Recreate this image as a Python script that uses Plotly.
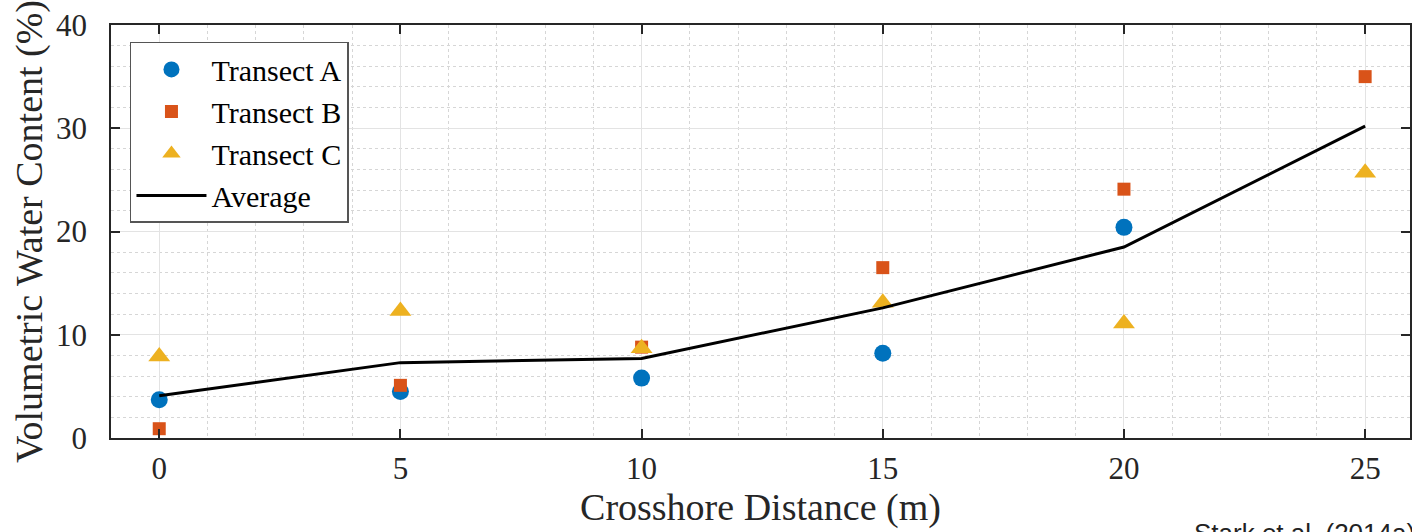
import plotly.graph_objects as go

x_vals = [0, 5, 10, 15, 20, 25]
transect_a_x = [0, 5, 10, 15, 20]
transect_a = [3.7, 4.5, 5.8, 8.2, 20.4]
transect_b = [0.9, 5.1, 8.8, 16.5, 24.1, 35.0]
transect_c = [7.9, 12.3, 8.7, 13.1, 11.1, 25.7]
average = [4.1, 7.3, 7.7, 12.6, 18.5, 30.2]

x_ticks = [0, 5, 10, 15, 20, 25]
y_ticks = [0, 10, 20, 30, 40]

SERIF = "Liberation Serif, Times New Roman, serif"
AX = "#262626"

fig = go.Figure()
fig.add_trace(go.Scatter(x=transect_a_x, y=transect_a, mode="markers", name="Transect A",
                         marker=dict(symbol="circle", size=17, color="#0072BD")))
fig.add_trace(go.Scatter(x=x_vals, y=transect_b, mode="markers", name="Transect B",
                         marker=dict(symbol="square", size=13, color="#D95319")))
fig.add_trace(go.Scatter(x=x_vals, y=transect_c, mode="markers", name="Transect C",
                         marker=dict(symbol="triangle-up", size=19, color="#EDB120")))
fig.add_trace(go.Scatter(x=x_vals, y=average, mode="lines", name="Average",
                         line=dict(color="black", width=3)))

fig.update_layout(
    width=1412, height=532,
    margin=dict(l=111, r=0, t=25, b=94),
    paper_bgcolor="white", plot_bgcolor="white",
    font=dict(family=SERIF, color=AX),
    showlegend=True,
    legend=dict(x=0.0146, y=0.959, xanchor="left", yanchor="top",
                bgcolor="white", bordercolor="#555555", borderwidth=1.5,
                font=dict(family=SERIF, size=30, color="black"),
                tracegroupgap=0, itemwidth=70),
    annotations=[dict(text="Stark et al. (2014a)", xref="paper", yref="paper",
                      x=(1194 - 111) / 1301, y=-0.19, xanchor="left", yanchor="top",
                      showarrow=False, font=dict(family="Liberation Sans, Arial", size=26, color="#222222"))],
)

fig.update_xaxes(
    range=[-1, 25.93], tickvals=x_ticks, ticks="inside", ticklen=9, tickcolor=AX, tickwidth=1.5,
    showline=True, linecolor=AX, linewidth=1.5, mirror="ticks",
    showgrid=True, gridcolor="#e3e3e3", gridwidth=1,
    minor=dict(dtick=1, showgrid=True, gridcolor="#d6d6d6", griddash="dot", gridwidth=1),
    tickfont=dict(family=SERIF, size=31, color=AX), ticklabelstandoff=2,
    title=dict(text="Crosshore Distance (m)", font=dict(family=SERIF, size=38, color=AX), standoff=0),
    zeroline=False, fixedrange=True,
)
fig.update_yaxes(
    range=[0, 40], tickvals=y_ticks, ticks="inside", ticklen=9, tickcolor=AX, tickwidth=1.5,
    showline=True, linecolor=AX, linewidth=1.5, mirror="ticks",
    showgrid=True, gridcolor="#e3e3e3", gridwidth=1,
    minor=dict(dtick=2, showgrid=True, gridcolor="#d6d6d6", griddash="dot", gridwidth=1),
    tickfont=dict(family=SERIF, size=31, color=AX), ticklabelstandoff=16,
    title=dict(text="Volumetric Water Content (%)", font=dict(family=SERIF, size=38, color=AX), standoff=2),
    zeroline=False, fixedrange=True,
)

fig.write_html("out.html")
